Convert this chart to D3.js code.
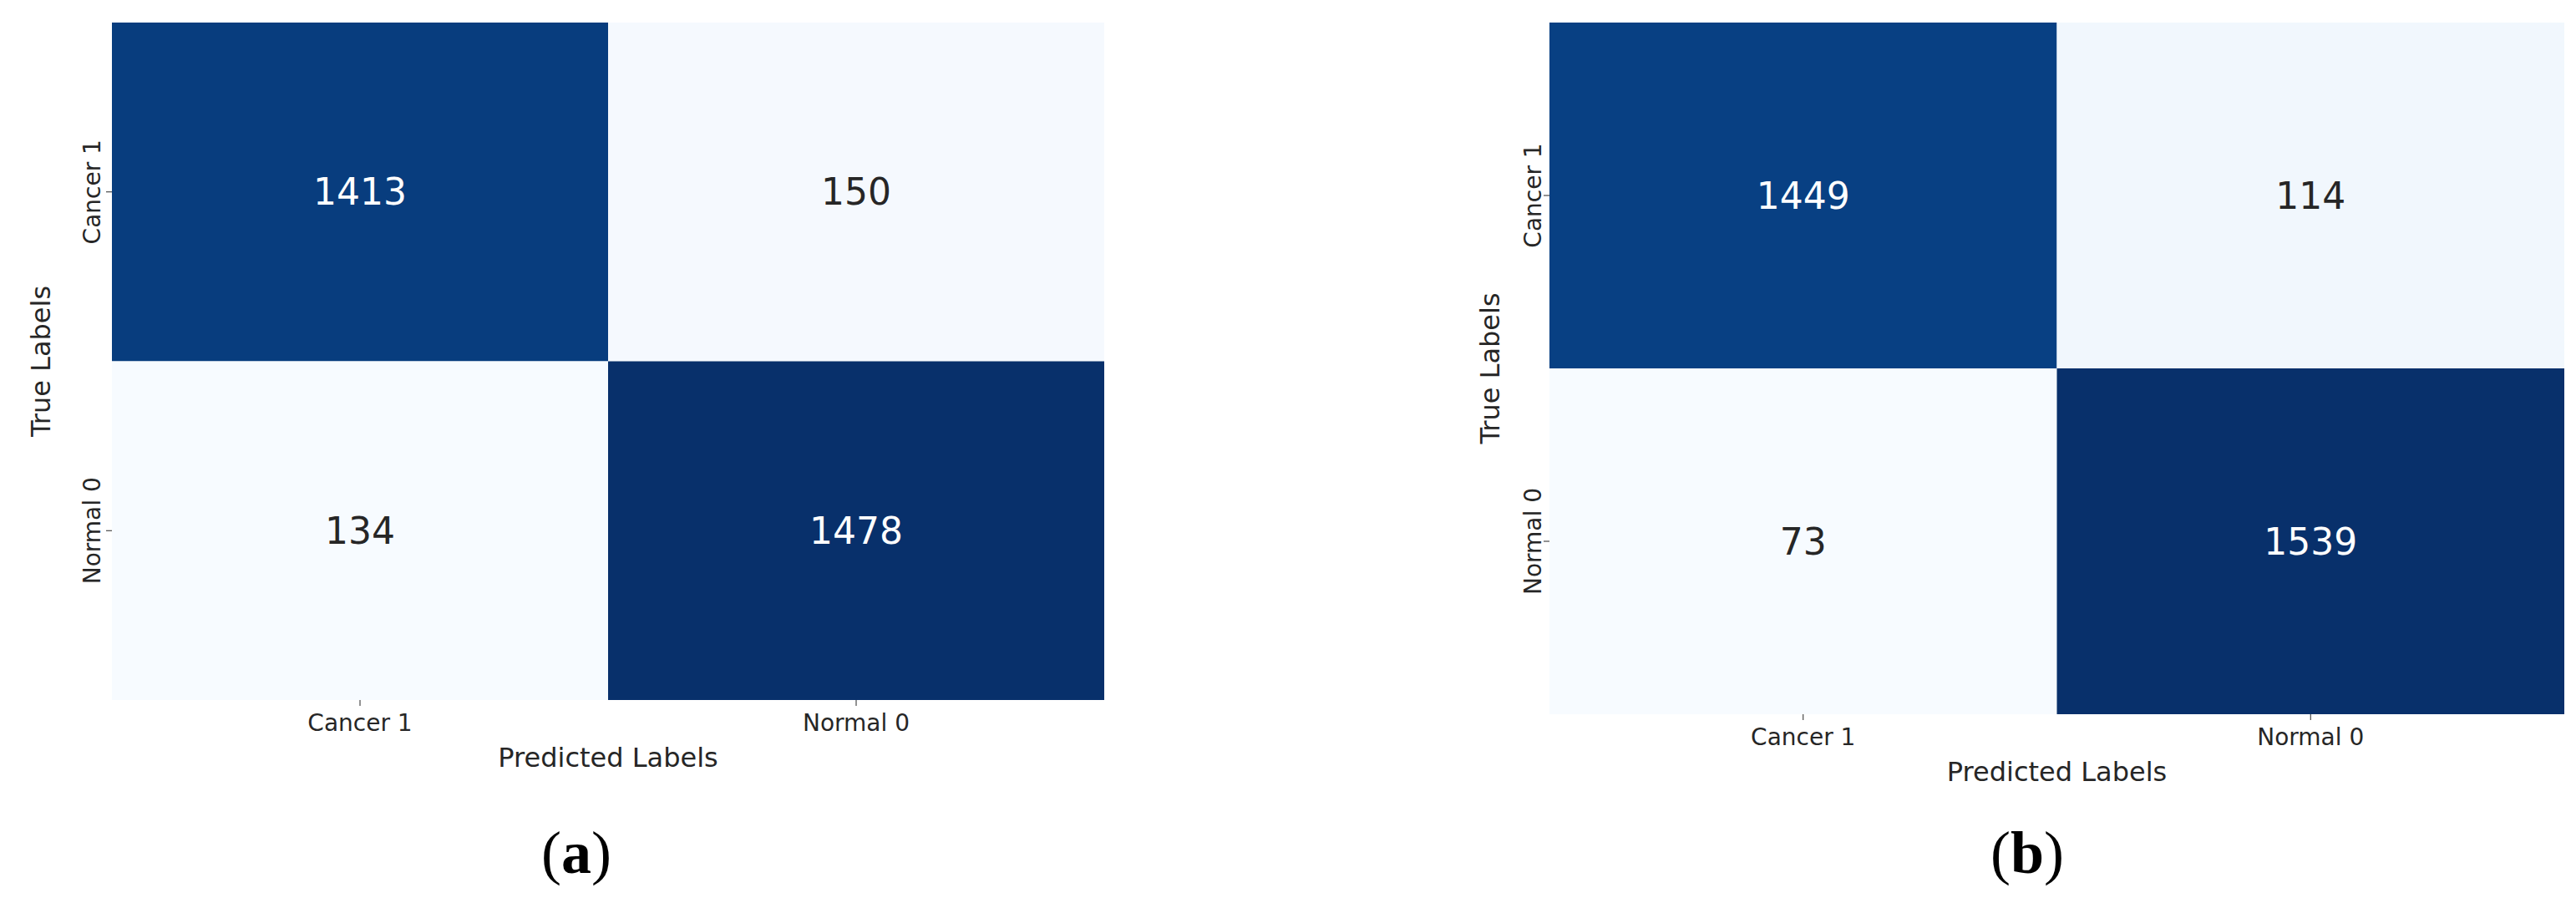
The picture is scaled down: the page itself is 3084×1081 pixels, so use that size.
<!DOCTYPE html>
<html><head><meta charset="utf-8">
<script src="https://cdn.jsdelivr.net/npm/d3@7"></script>
<style>body{margin:0;background:#fff}svg{display:block}</style>
</head><body>
<svg id="c" width="3084" height="1081"></svg>
<script>
const categories = ["Cancer 1", "Normal 0"];
const matrixA = [[1413, 150], [134, 1478]];
const matrixB = [[1449, 114], [73, 1539]];
const panelLabels = ["a", "b"];

const svg = d3.select("#c");
const font = "DejaVu Sans, sans-serif";

const panels = [
  {m: matrixA, x0: 134, x1: 1322, y0: 27, y1: 838, lab: panelLabels[0], labX: 690, ylabX: 60, yTickX: 110},
  {m: matrixB, x0: 1855, x1: 3070, y0: 27, y1: 855, lab: panelLabels[1], labX: 2427, ylabX: 1795, yTickX: 1835}
];

panels.forEach(p => {
  const g = svg.append("g");
  const x = d3.scaleBand().domain(categories).range([p.x0, p.x1]);
  const y = d3.scaleBand().domain(categories).range([p.y0, p.y1]);
  const vals = p.m.flat();
  const color = d3.scaleSequential(d3.interpolateBlues).domain([d3.min(vals), d3.max(vals)]);
  const cells = [];
  categories.forEach((r, i) => categories.forEach((c, j) => cells.push({r, c, v: p.m[i][j]})));
  g.selectAll("rect").data(cells).join("rect")
    .attr("x", d => x(d.c)).attr("y", d => y(d.r))
    .attr("width", x.bandwidth()).attr("height", y.bandwidth())
    .attr("fill", d => color(d.v));
  g.selectAll("text.v").data(cells).join("text").attr("class", "v")
    .attr("x", d => x(d.c) + x.bandwidth() / 2).attr("y", d => y(d.r) + y.bandwidth() / 2)
    .attr("text-anchor", "middle").attr("dominant-baseline", "central")
    .attr("font-family", font).attr("font-size", 44)
    .attr("fill", d => color(d.v) && d3.lab(color(d.v)).l < 50 ? "#fff" : "#262626")
    .text(d => d.v);
  // x axis
  const xa = g.append("g").attr("transform", `translate(0,${p.y1})`)
    .call(d3.axisBottom(x).tickSize(7).tickPadding(10));
  xa.select(".domain").remove();
  xa.selectAll("text").attr("font-family", font).attr("font-size", 28).attr("fill", "#262626");
  xa.selectAll("line").attr("stroke", "#262626");
  // y axis
  const ya = g.append("g").attr("transform", `translate(${p.x0},0)`)
    .call(d3.axisLeft(y).tickSize(7).tickPadding(8));
  ya.select(".domain").remove();
  ya.selectAll("line").attr("stroke", "#262626");
  ya.selectAll("text").attr("font-family", font).attr("font-size", 28).attr("fill", "#262626")
    .attr("text-anchor", "middle")
    .attr("transform", function(d){ return `translate(${-(p.x0 - p.yTickX) + 0},0) rotate(-90)`; })
    .attr("x", 0).attr("dy", "0.35em");
  g.append("text").attr("x", (p.x0 + p.x1) / 2).attr("y", p.y1 + 80)
    .attr("text-anchor", "middle").attr("font-family", font).attr("font-size", 32).attr("fill", "#262626")
    .text("Predicted Labels");
  g.append("text").attr("transform", `translate(${p.ylabX},${(p.y0 + p.y1) / 2}) rotate(-90)`)
    .attr("text-anchor", "middle").attr("font-family", font).attr("font-size", 32).attr("fill", "#262626")
    .text("True Labels");
  const t = g.append("text").attr("x", p.labX).attr("y", 1045).attr("text-anchor", "middle")
    .attr("font-family", "Liberation Serif, serif").attr("font-size", 72).attr("fill", "#000");
  t.append("tspan").text("(");
  t.append("tspan").attr("font-weight", "bold").text(p.lab);
  t.append("tspan").text(")");
});
</script>
</body></html>
